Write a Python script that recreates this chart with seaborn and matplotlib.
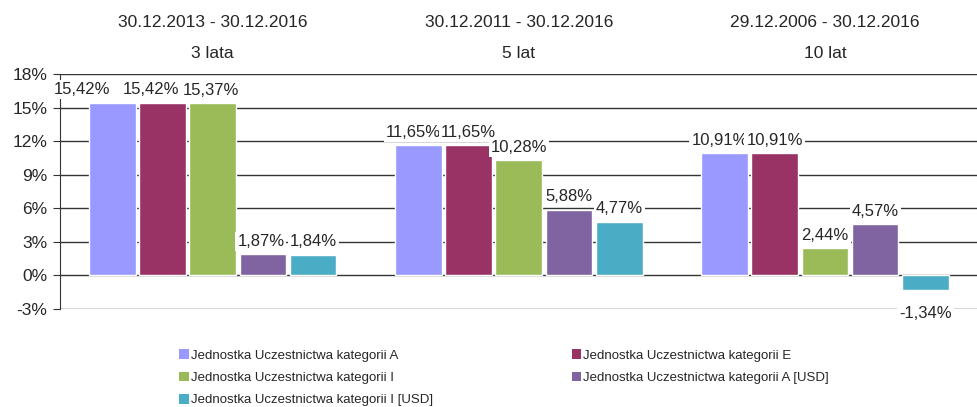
import pandas as pd
import numpy as np
import matplotlib.pyplot as plt
import seaborn as sns
from matplotlib.patches import Patch
from matplotlib import transforms

# data
periods = ['30.12.2013 - 30.12.2016', '30.12.2011 - 30.12.2016', '29.12.2006 - 30.12.2016']
horizons = ['3 lata', '5 lat', '10 lat']
series = ['Jednostka Uczestnictwa kategorii A',
          'Jednostka Uczestnictwa kategorii E',
          'Jednostka Uczestnictwa kategorii I',
          'Jednostka Uczestnictwa kategorii A [USD]',
          'Jednostka Uczestnictwa kategorii I [USD]']
val_a = [15.42, 11.65, 10.91]
val_e = [15.42, 11.65, 10.91]
val_i = [15.37, 10.28, 2.44]
val_a_usd = [1.87, 5.88, 4.57]
val_i_usd = [1.84, 4.77, -1.34]
colors = ['#9999FF', '#993366', '#9BBB59', '#8064A2', '#4BACC6']

rows = []
for s, vals in zip(series, [val_a, val_e, val_i, val_a_usd, val_i_usd]):
    for h, v in zip(horizons, vals):
        rows.append({'okres': h, 'seria': s, 'wartosc': v})
df = pd.DataFrame(rows)

sns.set_style('white')
plt.rcParams['font.family'] = ['Liberation Sans', 'DejaVu Sans']

fig = plt.figure(figsize=(9.78, 4.07), dpi=100)
ax = fig.add_axes([0.061, 0.241, 0.939, 0.577])

sns.barplot(data=df, x='okres', y='wartosc', hue='seria', order=horizons,
            hue_order=series, palette=colors, width=0.82, gap=0.07,
            saturation=1, legend=False, ax=ax, zorder=3)

ax.set_ylim(-3, 18)
ax.set_xlim(-0.5, 2.5)
ax.set_yticks(np.arange(-3, 19, 3))
ax.set_yticklabels([f'{t}%' for t in range(-3, 19, 3)], fontsize=12.5)
ax.yaxis.grid(True, color='#333333', linewidth=1)
ax.set_axisbelow(True)
for sp in ['top', 'right', 'bottom']:
    ax.spines[sp].set_visible(False)
ax.spines['left'].set_color('#333333')
ax.tick_params(axis='y', left=True, length=5, color='#333333', pad=4)
ax.set_xticks([])
ax.set_xlabel('')
ax.set_ylabel('')

# value labels (pixel nudges where Excel pushed labels apart)
shift = {(0, 0): -30, (1, 0): -12, (2, 0): -2, (0, 1): -5, (0, 2): -5,
         (3, 0): -2}
for si, cont in enumerate(ax.containers):
    for gi, bar in enumerate(cont):
        v = bar.get_height()
        x = bar.get_x() + bar.get_width() / 2
        txt = f'{abs(v):.2f}'.replace('.', ',')
        txt = ('-' if v < 0 else '') + txt + '%'
        dx = shift.get((si, gi), 0)
        if v >= 0:
            ax.annotate(txt, (x, v), xytext=(dx * 0.72, 4), textcoords='offset points',
                        ha='center', va='bottom', fontsize=12, zorder=4,
                        bbox=dict(facecolor='white', edgecolor='none', pad=1.5))
        else:
            ax.annotate(txt, (x, v), xytext=(dx * 0.72, -11), textcoords='offset points',
                        ha='center', va='top', fontsize=12, zorder=4,
                        bbox=dict(facecolor='white', edgecolor='none', pad=1.5))

# headers above groups
tr = transforms.blended_transform_factory(ax.transData, ax.transAxes)
for i, (p, h) in enumerate(zip(periods, horizons)):
    ax.text(i, 1.221, p, transform=tr, ha='center', va='center', fontsize=12.5)
    ax.text(i, 1.089, h, transform=tr, ha='center', va='center', fontsize=12.5)

# legend, row-major order
handles = [Patch(facecolor=c, edgecolor='none') for c in colors]
order = [0, 2, 4, 1, 3]
fig.legend([handles[k] for k in order], [series[k] for k in order],
           loc='upper left', bbox_to_anchor=(0.183, 0.142), ncol=2, frameon=False,
           handlelength=0.75, handleheight=0.75, handletextpad=0.15,
           columnspacing=10.5, labelspacing=0.75, borderaxespad=0, borderpad=0,
           prop={'size': 9.5})

fig.savefig('out.png', dpi=100)
